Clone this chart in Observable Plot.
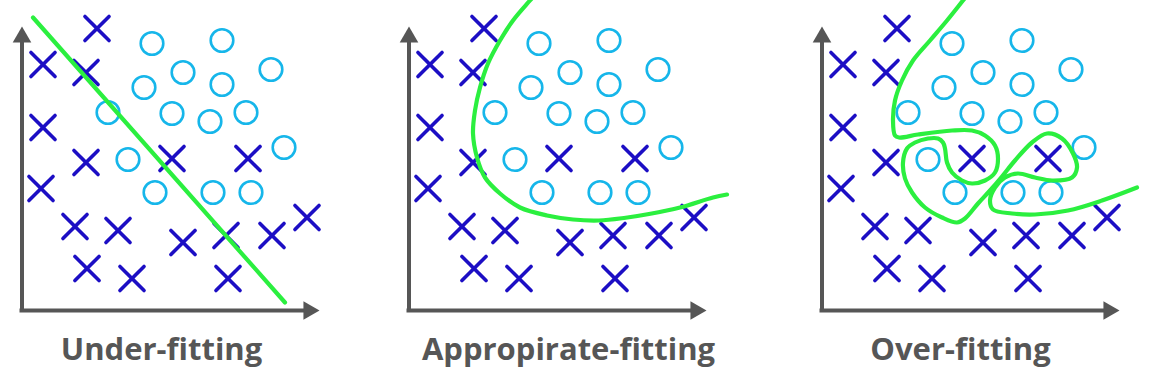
<!DOCTYPE html>
<html><head><meta charset="utf-8">
<script src="https://cdn.jsdelivr.net/npm/d3@7"></script>
<script src="https://cdn.jsdelivr.net/npm/@observablehq/plot@0.6"></script>
<style>body{margin:0;background:#fff;} svg{display:block}</style>
</head><body>
<script>
// ---- data ----
const panelTitles = ["Under-fitting", "Appropirate-fitting", "Over-fitting"];

// class "x" samples (feature 1, feature 2)
const crossF1 = [75, 21, 64, 21, 64, 19, 150, 226, 53, 96, 161, 204, 250, 285, 65, 110, 206];
const crossF2 = [282, 246, 238, 183, 148, 122, 152, 152, 84, 80, 68, 75, 75, 93, 42, 32, 32];

// class "o" samples
const circleF1 = [130, 200, 161, 200, 249, 122, 86, 150, 188, 224, 262, 106, 133, 191, 229];
const circleF2 = [267, 270, 238, 226, 241, 223, 198, 197, 189, 198, 163, 151, 118, 118, 118];

// decision boundaries
const underFitBoundary = [[11, 293], [263, 8]];
const appropriateBoundary = [[128, 318], [121, 310], [104, 290], [91, 270], [79, 247], [71, 223], [66, 200], [64, 177], [68, 153], [76, 133], [91, 117], [111, 103], [138, 95], [164, 91], [190, 90], [215, 92.5], [240, 96.5], [271, 103], [304, 113], [318, 116]];
const overFitBoundary = [[149, 320], [141, 310], [125, 290], [108, 270], [91, 250], [80, 230], [73, 210], [71, 190], [73, 175], [77, 173], [96, 176], [130, 180], [150, 180], [163, 175], [173, 165], [176, 152], [173, 138], [163, 130], [150, 127], [140, 130], [130, 138], [125, 148], [123, 162], [121, 168], [116, 172], [106, 172], [93, 168], [85, 162], [81, 148], [83, 132], [90, 118], [103, 103], [120, 93], [135, 88], [143, 92], [156, 107], [168, 120], [180, 134], [193, 150], [210, 168], [225, 177], [240, 172], [251, 157], [255, 143], [250, 133], [230, 130], [213, 133], [196, 137], [183, 133], [173, 123], [168, 110], [171, 101], [190, 97], [213, 96], [246, 100], [280, 110], [315, 123]];

// ---- layout (not data) ----
const panelOffset = [0, 387, 800];
const titleCenter = [139.5, 159.5, 138.5];
const axisTop = 268, axisRight = 281;
const headY = 273.3, headX = 286.8;

const idx = [0, 1, 2];
const crosses = idx.flatMap(p => crossF1.map((v, j) => ({p, f1: v, f2: crossF2[j]})));
const circles = idx.flatMap(p => circleF1.map((v, j) => ({p, f1: v, f2: circleF2[j]})));
const bounds = [underFitBoundary, appropriateBoundary, overFitBoundary]
  .map((b, p) => b.map(([f1, f2]) => ({p, f1, f2})));
const X = d => panelOffset[d.p] + d.f1;

const GREEN = "#2bef3f", BLUE = "#1c0ec4", CYAN = "#16b6ea", GRAY = "#565656";

const chart = Plot.plot({
  width: 1149, height: 375, margin: 0,
  x: {domain: [-21.5, 1127.5], range: [0, 1149], axis: null},
  y: {domain: [-65, 310], range: [375, 0], axis: null},
  marks: [
    // axes
    Plot.ruleX(idx, {x: p => panelOffset[p], y1: 0, y2: axisTop, stroke: GRAY, strokeWidth: 4, strokeLinecap: "square"}),
    Plot.ruleY(idx, {y: 0, x1: p => panelOffset[p], x2: p => panelOffset[p] + axisRight, stroke: GRAY, strokeWidth: 4, strokeLinecap: "square"}),
    Plot.dot(idx, {x: p => panelOffset[p], y: headY, symbol: "triangle", r: 6.9, fill: GRAY, stroke: null}),
    Plot.dot(idx, {x: p => panelOffset[p] + headX, y: 0, symbol: "triangle", r: 6.9, rotate: 90, fill: GRAY, stroke: null}),
    // samples
    Plot.dot(circles, {x: X, y: "f2", r: 11.3, stroke: CYAN, strokeWidth: 2.6, fill: "none"}),
    Plot.dot(crosses, {x: X, y: "f2", symbol: "times", r: 11, stroke: BLUE, strokeWidth: 3.6, fill: "none", strokeLinecap: "round"}),
    // boundaries
    Plot.line(bounds[0], {x: X, y: "f2", stroke: GREEN, strokeWidth: 4.2, strokeLinecap: "round", clip: true}),
    Plot.line(bounds[1], {x: X, y: "f2", stroke: GREEN, strokeWidth: 4.2, curve: "catmull-rom", strokeLinecap: "round", clip: true}),
    Plot.line(bounds[2], {x: X, y: "f2", stroke: GREEN, strokeWidth: 4.2, curve: "catmull-rom", strokeLinejoin: "round", strokeLinecap: "round", clip: true}),
    // titles
    Plot.text(idx, {x: p => panelOffset[p] + titleCenter[p], y: -40, text: p => panelTitles[p],
      fontSize: 31, fontWeight: "bold", fontFamily: "Open Sans", fill: GRAY, textAnchor: "middle"})
  ]
});
document.body.appendChild(chart);
</script>
</body></html>
